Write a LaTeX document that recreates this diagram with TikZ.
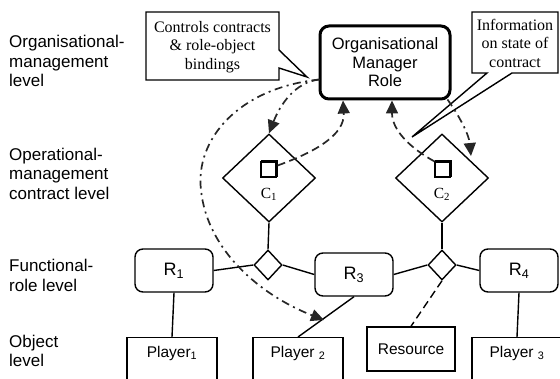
\documentclass[tikz,border=0pt]{standalone}
\usepackage{fontspec}
\setmainfont{Liberation Sans}
\newfontfamily\tmsfont{Liberation Serif}
\usetikzlibrary{shapes.geometric,arrows.meta,calc}
\begin{document}
\begin{tikzpicture}[x=1pt,y=-1pt,
  lvl/.style={anchor=west,align=left,inner sep=0pt,font=\fontsize{17}{19.5}\selectfont},
  orgbox/.style={draw,line width=3pt,rounded corners=9pt,minimum width=130pt,minimum height=73pt,inner sep=0pt,align=center,font=\fontsize{16.5}{18.5}\selectfont},
  rolebox/.style={draw,line width=1.4pt,rounded corners=8pt,minimum width=78pt,minimum height=43pt,inner sep=0pt,font=\fontsize{18}{20}\selectfont},
  bigdia/.style={draw,diamond,line width=1.4pt,minimum width=93pt,minimum height=88pt,inner sep=0pt},
  smalldia/.style={draw,diamond,line width=1.4pt,minimum width=28pt,minimum height=30pt,inner sep=0pt},
  playerbox/.style={draw,line width=1.4pt,anchor=north,minimum width=90pt,inner xsep=0pt,inner ysep=8.5pt,text height=11pt,text depth=30pt,font=\fontsize{15.5}{18}\selectfont},
  resbox/.style={draw,line width=1.4pt,minimum width=88pt,minimum height=44pt,inner sep=0pt,font=\fontsize{15.5}{18}\selectfont},
  ctext/.style={align=center,inner sep=0pt,font=\tmsfont\fontsize{16}{18.5}\selectfont},
  clab/.style={inner sep=0pt,font=\tmsfont\fontsize{15.5}{18}\selectfont},
  iconbox/.style={draw,line width=1.2pt,minimum size=15pt,inner sep=0pt},
  conn/.style={line width=1.4pt},
  tipa/.style={-{Triangle[length=13pt,width=12pt]}},
  dsh/.style={line width=1.7pt,color=black!85,dash pattern=on 8pt off 4.5pt,tipa},
  dshdot/.style={line width=1.7pt,color=black!85,dash pattern=on 8pt off 4.5pt on 2pt off 4.5pt,tipa},
  calloutline/.style={line width=1.4pt,line join=miter}
]
\useasboundingbox (0,0) rectangle (560,379);

% level labels
\node[lvl] (l1) at (9,61.3) {Organisational-\\management\\level};
\node[lvl] (l2) at (9,173.8) {Operational-\\management\\contract level};
\node[lvl] (l3) at (9,275.3) {Functional-\\role level};
\node[lvl] (l4) at (9,350.8) {Object\\level};

% organisational manager
\node[orgbox] (org) at (385,62.5) {Organisational\\Manager\\Role};

% callouts
\draw[calloutline] (146,12) -- (279,12) -- (279,50) -- (307,77) -- (279,68) -- (279,80) -- (146,80) -- cycle;
\node[ctext] (ct1) at (212.5,47) {Controls contracts\\\& role-object\\bindings};
\draw[calloutline] (472,12) -- (558,12) -- (558,73) -- (512,73) -- (412,137) -- (487,73) -- (472,73) -- cycle;
\node[ctext] (ct2) at (515,43) {Information\\on state of\\contract};

% contracts
\node[bigdia] (c1) at (269,178) {};
\node[bigdia] (c2) at (442,178) {};
\node[iconbox] (ic1) at (268.5,169.5) {};
\node[iconbox] (ic2) at (442.5,169.5) {};
\draw[line width=3pt] ([xshift=1pt]ic1.north west) -- (ic1.north east) -- ([yshift=1pt]ic1.south east);
\draw[line width=3pt] ([xshift=1pt]ic2.north west) -- (ic2.north east) -- ([yshift=1pt]ic2.south east);
\node[clab] (cl1) at (269,194) {C\textsubscript{1}};
\node[clab] (cl2) at (442,194) {C\textsubscript{2}};

% functional roles
\node[rolebox] (r1) at (174,270.5) {R\textsubscript{1}};
\node[rolebox] (r3) at (354,274.5) {R\textsubscript{3}};
\node[rolebox] (r4) at (519,270.5) {R\textsubscript{4}};
\node[smalldia] (d1) at (268,265) {};
\node[smalldia] (d2) at (442,265) {};

% objects
\node[playerbox] (p1) at (172,337) {Player\textsubscript{1}};
\node[playerbox] (p2) at (298,337) {Player \textsubscript{2}};
\node[playerbox] (p3) at (517,337) {Player \textsubscript{3}};
\node[resbox] (res) at (411,349) {Resource};

% solid connectors
\draw[conn] (r1.south) -- (p1.north);
\draw[conn] (r1.east) -- (d1.west);
\draw[conn] (d1.east) -- (r3.west);
\draw[conn] (r3.east) -- (d2.west);
\draw[conn] (d2.east) -- (r4.west);
\draw[conn] (d1.north) -- (c1.south);
\draw[conn] (d2.north) -- (c2.south);
\draw[conn] (r3.south) -- (p2.north);
\draw[conn] (r4.south) -- (p3.north);
\draw[conn,dash pattern=on 8pt off 4.5pt] (d2.south) -- (res.north);

% management arrows
\coordinate (oa) at ($(org.south)+(-42,0)$);
\coordinate (ob) at ($(org.south)+(7,0)$);
\coordinate (oc) at ($(org.south east)+(-4,-1)$);
\coordinate (od) at ($(org.south west)+(1,-21)$);
\coordinate (tc2) at (471,156);
\coordinate (tp2) at (324,320);
\draw[dsh] ($(ic1.east)+(1,-4)$) .. controls (315,152) and (345,135) .. (oa);
\draw[dsh] (ic2.north west) .. controls (410,148) and (392,130) .. (ob);
\draw[dshdot] (oc) .. controls (460,117) and (469,135) .. (tc2);
\draw[dshdot] (od) .. controls (295,82) and (280,105) .. (c1.north);
\draw[dshdot] (od) .. controls (238,88) and (195,140) .. (201,190) .. controls (207,250) and (260,295) .. (tp2);
\end{tikzpicture}
\end{document}
